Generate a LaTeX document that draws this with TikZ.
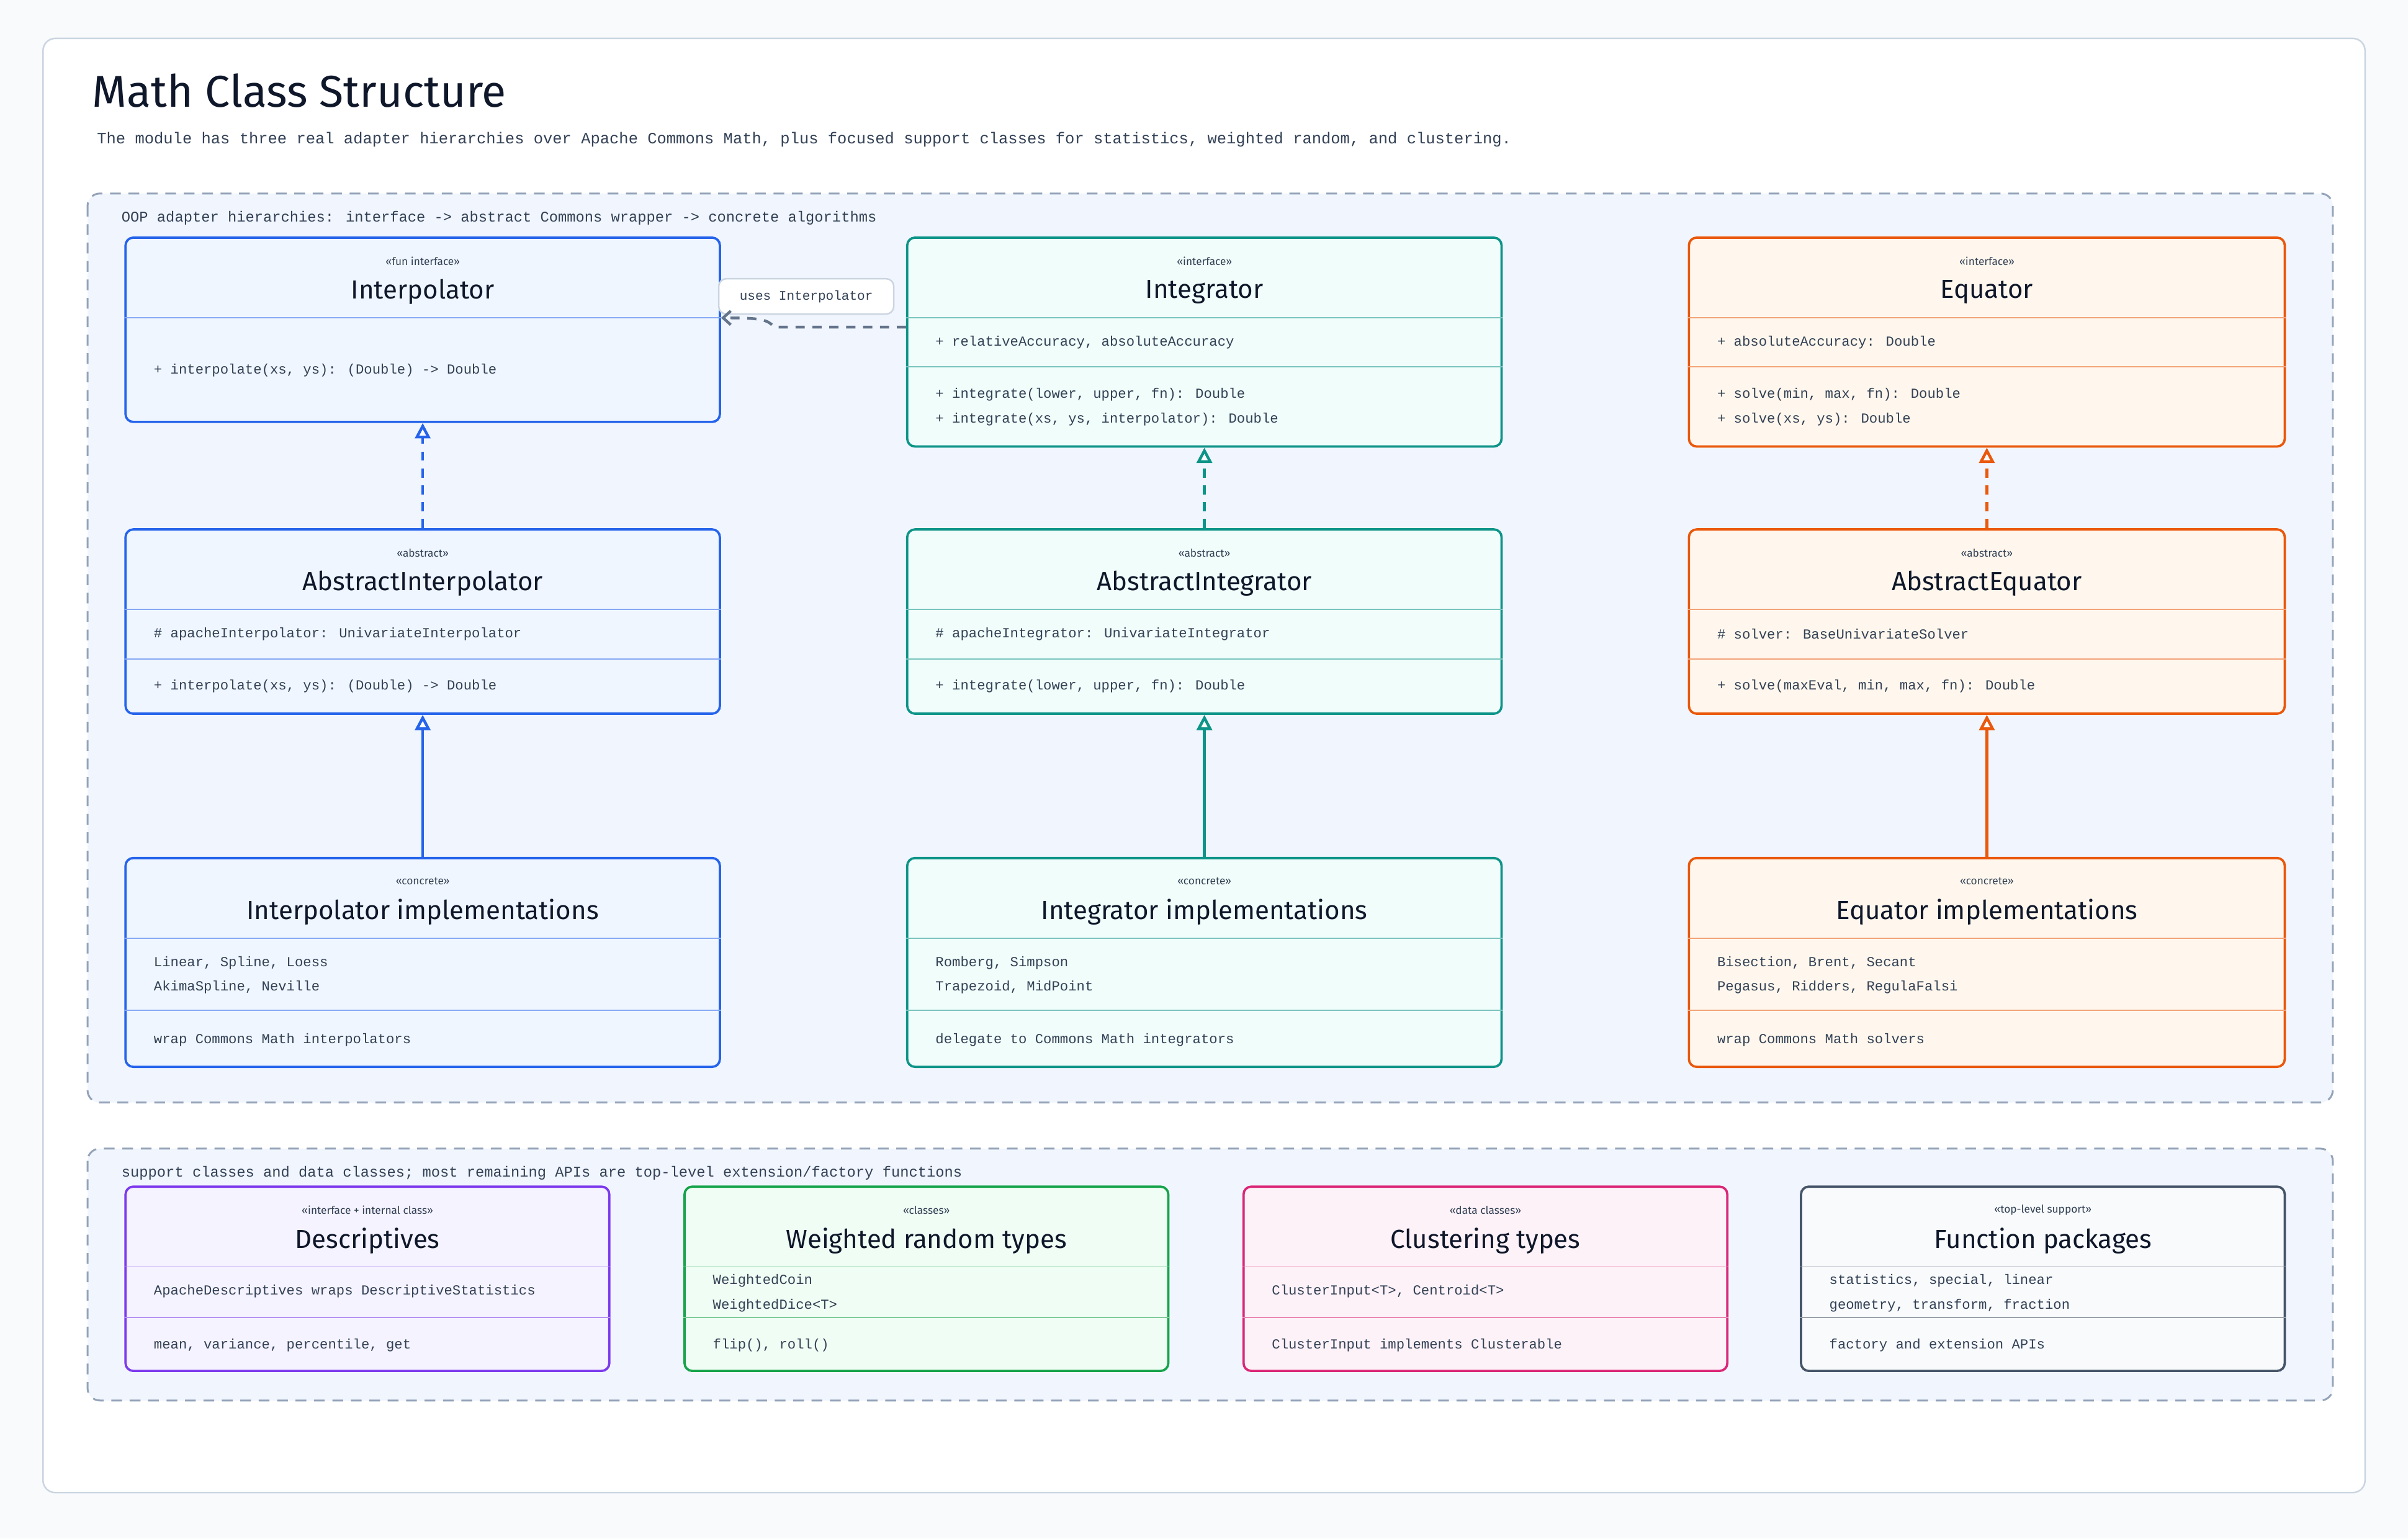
\documentclass[tikz,border=0pt]{standalone}
\usepackage{fontspec}
\setmainfont{Fira Sans}
\newfontfamily\mono{Liberation Mono}
\usetikzlibrary{arrows.meta}
\definecolor{bg}{HTML}{F8FAFC}
\definecolor{cardline}{HTML}{CBD5E1}
\definecolor{grpfill}{HTML}{F1F6FE}
\definecolor{grpline}{HTML}{94A3B8}
\definecolor{ink}{HTML}{0F172A}
\definecolor{txt}{HTML}{334155}
\definecolor{arr}{HTML}{64748B}
\definecolor{cblue}{HTML}{2563EB}\definecolor{fblue}{HTML}{EFF6FF}
\definecolor{cteal}{HTML}{0D9488}\definecolor{fteal}{HTML}{F0FDFA}
\definecolor{corange}{HTML}{EA580C}\definecolor{forange}{HTML}{FFF7ED}
\definecolor{cpurple}{HTML}{7C3AED}\definecolor{fpurple}{HTML}{F5F3FF}
\definecolor{cgreen}{HTML}{16A34A}\definecolor{fgreen}{HTML}{F0FDF4}
\definecolor{cpink}{HTML}{DB2777}\definecolor{fpink}{HTML}{FDF2F8}
\definecolor{cgray}{HTML}{475569}\definecolor{fgray}{HTML}{F8FAFC}
\tikzset{
  x=1pt,y=-1pt,
  box/.style 2 args={draw=#1,fill=#2,line width=1.5pt,rounded corners=5pt,anchor=north west,inner sep=0pt},
  div/.style={draw=#1!55,line width=0.8pt},
  st/.style={font=\fontsize{7}{8}\selectfont,text=txt,inner sep=0pt},
  nm/.style={font=\fontsize{17}{19}\selectfont,text=ink,inner sep=0pt},
  mt/.style={font=\mono\fontsize{9}{16}\selectfont,text=txt,anchor=west,inner sep=0pt,align=left},
  gl/.style={font=\mono\fontsize{9.6}{11}\selectfont,text=txt,anchor=west,inner sep=0pt},
  grp/.style={draw=grpline,fill=grpfill,line width=1.2pt,dash pattern=on 7pt off 5pt,rounded corners=8pt},
  real/.style={draw=#1,line width=1.8pt,-{Triangle[open,fill=white,length=10pt,width=10pt]}},
}
\begin{document}
\begin{tikzpicture}
\fill[bg] (0,0) rectangle (1568,1002);
\useasboundingbox (0,0) rectangle (1568,1002);
\draw[cardline,fill=white,line width=1pt,rounded corners=8pt] (28,25) rectangle (1540,972);
\node[anchor=west,inner sep=0pt,font=\fontsize{29}{32}\selectfont,text=ink] (title) at (60,59) {Math Class Structure};
\node[anchor=west,inner sep=0pt,font=\mono\fontsize{10.3}{12}\selectfont,text=txt] (sub) at (63,91) {The module has three real adapter hierarchies over Apache Commons Math, plus focused support classes for statistics, weighted random, and clustering.};
% group 1
\draw[grp] (57,126) rectangle (1519,718);
\node[gl] (g1) at (79,142) {OOP adapter hierarchies: interface -> abstract Commons wrapper -> concrete algorithms};
% --- column boxes
\node[box={cblue}{fblue},minimum width=387pt,minimum height=120pt] (interp) at (81,154) {};
\node[box={cteal}{fteal},minimum width=387pt,minimum height=136pt] (integ) at (590,154) {};
\node[box={corange}{forange},minimum width=388pt,minimum height=136pt] (equat) at (1099,154) {};
\node[box={cblue}{fblue},minimum width=387pt,minimum height=120pt] (ainterp) at (81,344) {};
\node[box={cteal}{fteal},minimum width=387pt,minimum height=120pt] (ainteg) at (590,344) {};
\node[box={corange}{forange},minimum width=388pt,minimum height=120pt] (aequat) at (1099,344) {};
\node[box={cblue}{fblue},minimum width=387pt,minimum height=136pt] (cinterp) at (81,558) {};
\node[box={cteal}{fteal},minimum width=387pt,minimum height=136pt] (cinteg) at (590,558) {};
\node[box={corange}{forange},minimum width=388pt,minimum height=136pt] (cequat) at (1099,558) {};
% Interpolator
\node[st] (s1) at (interp.north |- 0,170) {<<fun interface>>};
\node[nm] (n1) at (interp.north |- 0,190) {Interpolator};
\draw[div=cblue] (interp.west |- 0,207) -- (interp.east |- 0,207);
\node[mt] (m1) at (100,241) {+ interpolate(xs, ys): (Double) -> Double};
% Integrator
\node[st] (s2) at (integ.north |- 0,170) {<<interface>>};
\node[nm] (n2) at (integ.north |- 0,190) {Integrator};
\draw[div=cteal] (integ.west |- 0,207) -- (integ.east |- 0,207);
\node[mt] (a2) at (609,223) {+ relativeAccuracy, absoluteAccuracy};
\draw[div=cteal] (integ.west |- 0,239) -- (integ.east |- 0,239);
\node[mt] (m2) at (609,265) {+ integrate(lower, upper, fn): Double\\+ integrate(xs, ys, interpolator): Double};
% Equator
\node[st] (s3) at (equat.north |- 0,170) {<<interface>>};
\node[nm] (n3) at (equat.north |- 0,190) {Equator};
\draw[div=corange] (equat.west |- 0,207) -- (equat.east |- 0,207);
\node[mt] (a3) at (1118,223) {+ absoluteAccuracy: Double};
\draw[div=corange] (equat.west |- 0,239) -- (equat.east |- 0,239);
\node[mt] (m3) at (1118,265) {+ solve(min, max, fn): Double\\+ solve(xs, ys): Double};
% Abstract row
\node[st] (s4) at (ainterp.north |- 0,360) {<<abstract>>};
\node[nm] (n4) at (ainterp.north |- 0,380) {AbstractInterpolator};
\draw[div=cblue] (ainterp.west |- 0,397) -- (ainterp.east |- 0,397);
\node[mt] (a4) at (100,413) {\# apacheInterpolator: UnivariateInterpolator};
\draw[div=cblue] (ainterp.west |- 0,429) -- (ainterp.east |- 0,429);
\node[mt] (m4) at (100,447) {+ interpolate(xs, ys): (Double) -> Double};
\node[st] (s5) at (ainteg.north |- 0,360) {<<abstract>>};
\node[nm] (n5) at (ainteg.north |- 0,380) {AbstractIntegrator};
\draw[div=cteal] (ainteg.west |- 0,397) -- (ainteg.east |- 0,397);
\node[mt] (a5) at (609,413) {\# apacheIntegrator: UnivariateIntegrator};
\draw[div=cteal] (ainteg.west |- 0,429) -- (ainteg.east |- 0,429);
\node[mt] (m5) at (609,447) {+ integrate(lower, upper, fn): Double};
\node[st] (s6) at (aequat.north |- 0,360) {<<abstract>>};
\node[nm] (n6) at (aequat.north |- 0,380) {AbstractEquator};
\draw[div=corange] (aequat.west |- 0,397) -- (aequat.east |- 0,397);
\node[mt] (a6) at (1118,413) {\# solver: BaseUnivariateSolver};
\draw[div=corange] (aequat.west |- 0,429) -- (aequat.east |- 0,429);
\node[mt] (m6) at (1118,447) {+ solve(maxEval, min, max, fn): Double};
% Concrete row
\node[st] (s7) at (cinterp.north |- 0,574) {<<concrete>>};
\node[nm] (n7) at (cinterp.north |- 0,594) {Interpolator implementations};
\draw[div=cblue] (cinterp.west |- 0,611) -- (cinterp.east |- 0,611);
\node[mt] (a7) at (100,635) {Linear, Spline, Loess\\AkimaSpline, Neville};
\draw[div=cblue] (cinterp.west |- 0,658) -- (cinterp.east |- 0,658);
\node[mt] (m7) at (100,677) {wrap Commons Math interpolators};
\node[st] (s8) at (cinteg.north |- 0,574) {<<concrete>>};
\node[nm] (n8) at (cinteg.north |- 0,594) {Integrator implementations};
\draw[div=cteal] (cinteg.west |- 0,611) -- (cinteg.east |- 0,611);
\node[mt] (a8) at (609,635) {Romberg, Simpson\\Trapezoid, MidPoint};
\draw[div=cteal] (cinteg.west |- 0,658) -- (cinteg.east |- 0,658);
\node[mt] (m8) at (609,677) {delegate to Commons Math integrators};
\node[st] (s9) at (cequat.north |- 0,574) {<<concrete>>};
\node[nm] (n9) at (cequat.north |- 0,594) {Equator implementations};
\draw[div=corange] (cequat.west |- 0,611) -- (cequat.east |- 0,611);
\node[mt] (a9) at (1118,635) {Bisection, Brent, Secant\\Pegasus, Ridders, RegulaFalsi};
\draw[div=corange] (cequat.west |- 0,658) -- (cequat.east |- 0,658);
\node[mt] (m9) at (1118,677) {wrap Commons Math solvers};
% arrows
\draw[real=cblue,dash pattern=on 6pt off 5pt] (ainterp.north) -- (interp.south);
\draw[real=cteal,dash pattern=on 6pt off 5pt] (ainteg.north) -- (integ.south);
\draw[real=corange,dash pattern=on 6pt off 5pt] (aequat.north) -- (equat.south);
\draw[real=cblue] (cinterp.north) -- (ainterp.south);
\draw[real=cteal] (cinteg.north) -- (ainteg.south);
\draw[real=corange] (cequat.north) -- (aequat.south);
% uses
\node[draw=cardline,fill=white,line width=1pt,rounded corners=5pt,minimum width=114pt,minimum height=23pt,inner sep=0pt,font=\mono\fontsize{8.5}{10}\selectfont,text=txt] (uses) at (525,193) {uses Interpolator};
\draw[arr,line width=1.8pt,dash pattern=on 6pt off 5pt,-{Straight Barb[length=5pt,width=9pt]}] (integ.west |- 0,213) -- (504,213) .. controls (500,208) and (495,207) .. (interp.east |- 0,207);
% group 2
\draw[grp] (57,748) rectangle (1519,912);
\node[gl] (g2) at (79,764) {support classes and data classes; most remaining APIs are top-level extension/factory functions};
\node[box={cpurple}{fpurple},minimum width=315pt,minimum height=120pt] (desc) at (81,772) {};
\node[box={cgreen}{fgreen},minimum width=315pt,minimum height=120pt] (wrand) at (445,772) {};
\node[box={cpink}{fpink},minimum width=315pt,minimum height=120pt] (clust) at (809,772) {};
\node[box={cgray}{fgray},minimum width=315pt,minimum height=120pt] (fpack) at (1172,772) {};
\node[st] (s10) at (desc.north |- 0,788) {<<interface + internal class>>};
\node[nm] (n10) at (desc.north |- 0,808) {Descriptives};
\draw[div=cpurple] (desc.west |- 0,825) -- (desc.east |- 0,825);
\node[mt] (a10) at (100,841) {ApacheDescriptives wraps DescriptiveStatistics};
\draw[div=cpurple] (desc.west |- 0,858) -- (desc.east |- 0,858);
\node[mt] (m10) at (100,876) {mean, variance, percentile, get};
\node[st] (s11) at (wrand.north |- 0,788) {<<classes>>};
\node[nm] (n11) at (wrand.north |- 0,808) {Weighted random types};
\draw[div=cgreen] (wrand.west |- 0,825) -- (wrand.east |- 0,825);
\node[mt] (a11) at (464,842) {WeightedCoin\\WeightedDice<T>};
\draw[div=cgreen] (wrand.west |- 0,858) -- (wrand.east |- 0,858);
\node[mt] (m11) at (464,876) {flip(), roll()};
\node[st] (s12) at (clust.north |- 0,788) {<<data classes>>};
\node[nm] (n12) at (clust.north |- 0,808) {Clustering types};
\draw[div=cpink] (clust.west |- 0,825) -- (clust.east |- 0,825);
\node[mt] (a12) at (828,841) {ClusterInput<T>, Centroid<T>};
\draw[div=cpink] (clust.west |- 0,858) -- (clust.east |- 0,858);
\node[mt] (m12) at (828,876) {ClusterInput implements Clusterable};
\node[st] (s13) at (fpack.north |- 0,788) {<<top-level support>>};
\node[nm] (n13) at (fpack.north |- 0,808) {Function packages};
\draw[div=cgray] (fpack.west |- 0,825) -- (fpack.east |- 0,825);
\node[mt] (a13) at (1191,842) {statistics, special, linear\\geometry, transform, fraction};
\draw[div=cgray] (fpack.west |- 0,858) -- (fpack.east |- 0,858);
\node[mt] (m13) at (1191,876) {factory and extension APIs};
\end{tikzpicture}
\end{document}
